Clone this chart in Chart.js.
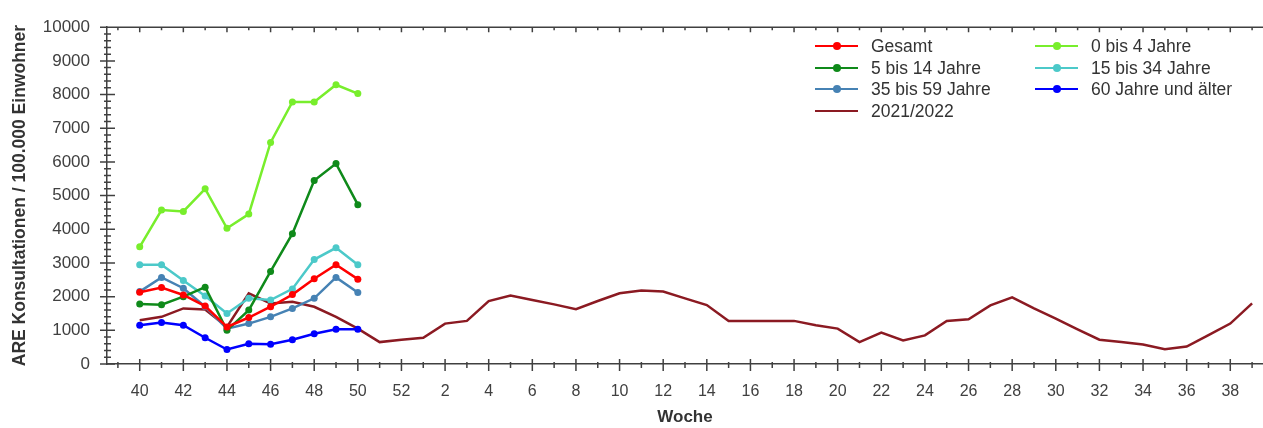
<!DOCTYPE html>
<html>
<head>
<meta charset="utf-8">
<title>ARE Konsultationen</title>
<script src="https://cdn.jsdelivr.net/npm/chart.js@4.4.1/dist/chart.umd.min.js"></script>
<style>
    html, body { margin: 0; padding: 0; background: #fff; }
    #wrap { position: relative; width: 1263px; height: 428px; overflow: hidden; }
    #legend { position: absolute; left: 0; top: 0; font-family: "Liberation Sans", Arial, sans-serif; font-size: 17.5px; color: #333; }
    .item { position: absolute; height: 20px; line-height: 20px; white-space: nowrap; }
    .swatch { position: absolute; left: 0; top: 9px; width: 43px; height: 2px; }
    .dot { position: absolute; left: 18px; top: -3px; width: 8px; height: 8px; border-radius: 50%; }
    .label { position: absolute; left: 56px; top: 0; }
</style>
</head>
<body>
<div id="wrap">
    <canvas id="areChart" width="1263" height="428"></canvas>
    <div id="legend"></div>
</div>
<script>
// Kalenderwochen der Saison (40 .. 52, 1 .. 39)
const weeks = [40, 41, 42, 43, 44, 45, 46, 47, 48, 49, 50, 51, 52,
    1, 2, 3, 4, 5, 6, 7, 8, 9, 10, 11, 12, 13, 14, 15, 16, 17, 18, 19, 20,
    21, 22, 23, 24, 25, 26, 27, 28, 29, 30, 31, 32, 33, 34, 35, 36, 37, 38, 39];

// aktuelle Saison, KW 40 - 50
const gesamt    = [2130, 2270, 2050, 1720, 1100, 1380, 1700, 2060, 2530, 2950, 2520];
const age0to4   = [3480, 4570, 4530, 5200, 4030, 4450, 6580, 7780, 7780, 8290, 8030];
const age5to14  = [1780, 1760, 2000, 2280, 1000, 1600, 2750, 3870, 5450, 5950, 4730];
const age15to34 = [2950, 2950, 2480, 2020, 1500, 1950, 1900, 2230, 3100, 3450, 2950];
const age35to59 = [2150, 2570, 2250, 1700, 1050, 1200, 1400, 1650, 1950, 2570, 2120];
const age60plus = [1150, 1230, 1150, 780, 430, 600, 590, 720, 900, 1030, 1030];

// Vorsaison 2021/2022, alle Wochen
const season2122 = [1300, 1400, 1650, 1620, 1100, 2100, 1800, 1850, 1700, 1400, 1050, 650, 720,
    780, 1200, 1280, 1870, 2030, 1900, 1770, 1630, 1870, 2100, 2180, 2150, 1950, 1750, 1280, 1280,
    1280, 1280, 1150, 1050, 650, 930, 700, 850, 1280, 1330, 1740, 1980, 1650, 1350, 1030, 720,
    650, 580, 440, 520, 860, 1200, 1800];

const yTicks = [0, 1000, 2000, 3000, 4000, 5000, 6000, 7000, 8000, 9000, 10000];

const axisColor = "#404040";
const textColor = "#404040";
const fontFamily = "'Liberation Sans', Arial, sans-serif";

const series = [
    { label: "Gesamt", data: gesamt, color: "#ff0000" },
    { label: "0 bis 4 Jahre", data: age0to4, color: "#78ee2c" },
    { label: "5 bis 14 Jahre", data: age5to14, color: "#0f8a1a" },
    { label: "15 bis 34 Jahre", data: age15to34, color: "#4cc9c9" },
    { label: "35 bis 59 Jahre", data: age35to59, color: "#4682b4" },
    { label: "60 Jahre und älter", data: age60plus, color: "#0000ff" },
    { label: "2021/2022", data: season2122, color: "#8b1a22", noPoints: true }
];

function toPoints(values) {
    return values.map((v, i) => ({ x: i, y: v }));
}

// Striche an den Achsen (beidseitig wie im Original) + obere Rahmenlinie
const axisTicks = {
    id: "axisTicks",
    afterDraw(chart) {
        const { ctx, chartArea, scales: { x, y } } = chart;
        ctx.save();
        ctx.strokeStyle = axisColor;
        ctx.lineWidth = 1.5;
        ctx.beginPath();
        ctx.moveTo(chartArea.left, chartArea.top);
        ctx.lineTo(chartArea.right, chartArea.top);
        x.ticks.forEach(t => {
            const px = x.getPixelForValue(t.value);
            const major = t.label !== "";
            const up = major ? 5 : 2;
            const down = major ? 7 : 4;
            ctx.moveTo(px, chartArea.bottom - up);
            ctx.lineTo(px, chartArea.bottom + down);
            ctx.moveTo(px, chartArea.top);
            ctx.lineTo(px, chartArea.top + (major ? 5 : 3));
        });
        for (let v = 0; v <= yTicks[yTicks.length - 1]; v += 200) {
            const py = y.getPixelForValue(v);
            const major = v % 1000 === 0;
            const l = major ? 7 : 3;
            const r = major ? 8 : 4;
            ctx.moveTo(chartArea.left - l, py);
            ctx.lineTo(chartArea.left + r, py);
        }
        ctx.stroke();
        ctx.restore();
    }
};

const ctx = document.getElementById("areChart").getContext("2d");

new Chart(ctx, {
    type: "line",
    data: {
        datasets: series.map(s => ({
            label: s.label,
            data: toPoints(s.data),
            borderColor: s.color,
            backgroundColor: s.color,
            borderWidth: 2.5,
            pointRadius: s.noPoints ? 0 : 3.5,
            pointBorderWidth: 0,
            pointBackgroundColor: s.color,
            tension: 0,
            fill: false
        }))
    },
    options: {
        responsive: false,
        animation: false,
        layout: { autoPadding: false, padding: { top: 20, right: 0, left: 0, bottom: 0 } },
        plugins: {
            legend: { display: false },
            tooltip: { enabled: false }
        },
        scales: {
            x: {
                type: "linear",
                min: -1.5,
                max: weeks.length - 0.5,
                grid: { display: false, drawTicks: false },
                border: { display: true, color: axisColor, width: 1.5 },
                afterBuildTicks: scale => {
                    const list = [];
                    for (let i = -1; i < weeks.length; i++) list.push({ value: i });
                    scale.ticks = list;
                },
                afterFit: scale => {
                    scale.height = 64;
                    scale.paddingLeft = 0;
                    scale.paddingRight = 0;
                },
                ticks: {
                    autoSkip: false,
                    maxRotation: 0,
                    padding: 0,
                    color: textColor,
                    // großer Zeilenabstand schiebt die Beschriftung nach unten
                    font: { family: fontFamily, size: 16, lineHeight: "55px" },
                    callback: v => {
                        const w = weeks[v];
                        return (w !== undefined && w % 2 === 0) ? String(w) : "";
                    }
                },
                title: {
                    display: true,
                    text: "Woche",
                    color: "#333",
                    padding: { top: 0, bottom: 0 },
                    font: { family: fontFamily, size: 17, weight: "bold" }
                }
            },
            y: {
                min: 0,
                max: 10000,
                grid: { display: false, drawTicks: false },
                border: { display: true, color: axisColor, width: 1.5 },
                afterBuildTicks: scale => {
                    scale.ticks = yTicks.map(v => ({ value: v }));
                },
                afterFit: scale => { scale.width = 107; },
                ticks: {
                    padding: 17,
                    color: textColor,
                    font: { family: fontFamily, size: 17 },
                    callback: v => String(v)
                },
                title: {
                    display: true,
                    text: "ARE Konsultationen / 100.000 Einwohner",
                    color: "#333",
                    padding: { top: 10, bottom: 0 },
                    font: { family: fontFamily, size: 17.5, weight: "bold" }
                }
            }
        }
    },
    plugins: [axisTicks]
});

// Legende in zwei Spalten, zeilenweise gefüllt
const legend = document.getElementById("legend");
series.forEach((s, i) => {
    const col = i % 2;
    const row = Math.floor(i / 2);
    const item = document.createElement("div");
    item.className = "item";
    item.style.left = (col === 0 ? 815 : 1035) + "px";
    item.style.top = (36 + row * 21.6) + "px";

    const swatch = document.createElement("div");
    swatch.className = "swatch";
    swatch.style.background = s.color;
    if (!s.noPoints) {
        const dot = document.createElement("div");
        dot.className = "dot";
        dot.style.background = s.color;
        swatch.appendChild(dot);
    }
    item.appendChild(swatch);

    const label = document.createElement("span");
    label.className = "label";
    label.textContent = s.label;
    item.appendChild(label);

    legend.appendChild(item);
});
</script>
</body>
</html>
